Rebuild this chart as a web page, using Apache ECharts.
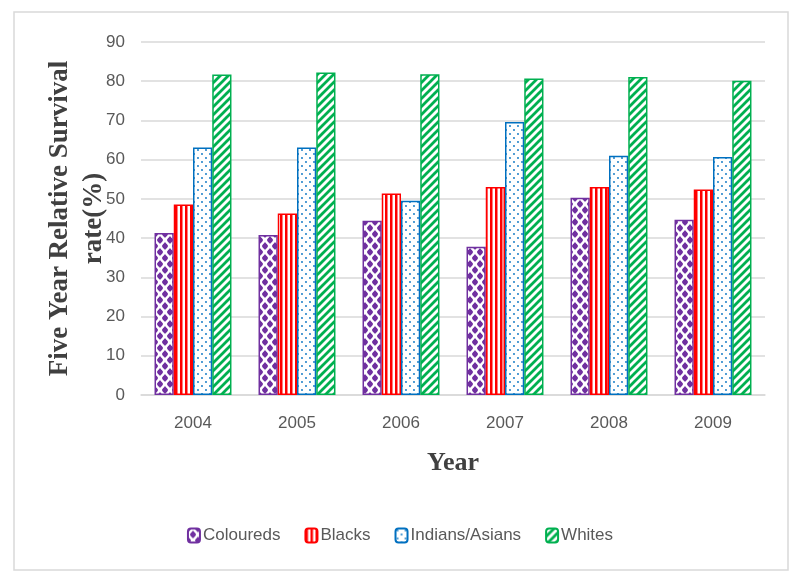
<!DOCTYPE html>
<html>
<head>
<meta charset="utf-8">
<script src="https://cdn.jsdelivr.net/npm/echarts@6/dist/echarts.min.js"></script>
<style>
    html, body { margin: 0; padding: 0; background: #fff; }
    #chart { width: 800px; height: 578px; }
</style>
</head>
<body>
<div id="chart"></div>
<script>
const years = ['2004', '2005', '2006', '2007', '2008', '2009'];
const coloureds = [41.3, 40.8, 44.4, 37.8, 50.3, 44.7];
const blacks = [48.6, 46.3, 51.4, 53.0, 53.0, 52.4];
const indiansAsians = [63.1, 63.1, 49.5, 69.6, 61.0, 60.7];
const whites = [81.7, 82.2, 81.8, 80.7, 81.1, 80.1];
const yTicks = [0, 10, 20, 30, 40, 50, 60, 70, 80, 90];

// small canvas tiles used as bar fills
function makeTile(w, h, draw) {
    const c = document.createElement('canvas');
    c.width = w;
    c.height = h;
    const ctx = c.getContext('2d');
    ctx.fillStyle = '#fff';
    ctx.fillRect(0, 0, w, h);
    draw(ctx);
    return { image: c, repeat: 'repeat' };
}

const purple = '#7030a0';
const red = '#ff0000';
const blue = '#0070c0';
const green = '#00b050';

const colouredFill = makeTile(10, 12, ctx => {
    ctx.fillStyle = purple;
    const blob = (x, y) => {
        ctx.beginPath();
        ctx.arc(x, y, 2.6, 0, Math.PI * 2);
        ctx.fill();
        ctx.beginPath();
        ctx.moveTo(x, y - 4);
        ctx.lineTo(x + 3, y);
        ctx.lineTo(x, y + 4);
        ctx.lineTo(x - 3, y);
        ctx.fill();
    };
    blob(5, 6);
    blob(0, 0); blob(10, 0); blob(0, 12); blob(10, 12);
});
const blackFill = makeTile(5, 5, ctx => {
    ctx.fillStyle = red;
    ctx.fillRect(0, 0, 2.5, 5);
});
const indianFill = makeTile(8, 8, ctx => {
    ctx.fillStyle = blue;
    [[2, 2], [6, 6]].forEach(p => {
        ctx.beginPath();
        ctx.arc(p[0], p[1], 0.9, 0, Math.PI * 2);
        ctx.fill();
    });
});
const whiteFill = makeTile(8, 8, ctx => {
    ctx.strokeStyle = green;
    ctx.lineWidth = 2.8;
    ctx.beginPath();
    ctx.moveTo(-2, 10); ctx.lineTo(10, -2);
    ctx.moveTo(-6, 6); ctx.lineTo(6, -6);
    ctx.moveTo(2, 14); ctx.lineTo(14, 2);
    ctx.stroke();
});

function barSeries(name, data, fill, border) {
    return {
        name: name,
        type: 'bar',
        data: data,
        barGap: '0%',
        barCategoryGap: '26%',
        itemStyle: {
            color: fill,
            borderColor: border,
            borderWidth: 1.5
        }
    };
}

const labelFont = 'Liberation Sans Narrow, Liberation Sans, sans-serif';

const chart = echarts.init(document.getElementById('chart'));
chart.setOption({
    backgroundColor: '#fff',
    animation: false,
    graphic: [{
        type: 'rect',
        shape: { x: 14, y: 12, width: 774, height: 558 },
        style: { fill: 'none', stroke: '#d9d9d9', lineWidth: 1.5 },
        silent: true
    }],
    grid: {
        left: 141,
        right: 35,
        top: 42,
        bottom: 183
    },
    legend: {
        top: 522,
        left: 'center',
        itemWidth: 12,
        itemHeight: 14,
        itemGap: 24,
        textStyle: {
            fontFamily: labelFont,
            fontSize: 17,
            color: '#595959',
            padding: [0, 0, 0, -2]
        },
        data: ['Coloureds', 'Blacks', 'Indians/Asians', 'Whites']
    },
    xAxis: {
        type: 'category',
        data: years,
        name: 'Year',
        nameLocation: 'middle',
        nameGap: 55,
        nameTextStyle: {
            fontFamily: 'Liberation Serif, serif',
            fontWeight: 'bold',
            fontSize: 26,
            color: '#404040'
        },
        axisTick: { show: false },
        axisLine: { lineStyle: { color: '#d9d9d9', width: 1.5 } },
        axisLabel: {
            margin: 20,
            fontFamily: labelFont,
            fontSize: 17,
            color: '#595959'
        }
    },
    yAxis: {
        type: 'value',
        min: yTicks[0],
        max: yTicks[yTicks.length - 1],
        interval: 10,
        name: 'Five Year Relative Survival\nrate(%)',
        nameLocation: 'middle',
        nameGap: 30,
        nameMoveOverlap: false,
        nameTextStyle: {
            fontFamily: 'Liberation Serif, serif',
            fontWeight: 'bold',
            fontSize: 27,
            color: '#404040',
            lineHeight: 34
        },
        axisLine: { show: false },
        axisTick: { show: false },
        splitLine: { lineStyle: { color: '#d9d9d9', width: 1.5 } },
        axisLabel: {
            margin: 16,
            fontFamily: labelFont,
            fontSize: 17,
            color: '#595959'
        }
    },
    series: [
        barSeries('Coloureds', coloureds, colouredFill, purple),
        barSeries('Blacks', blacks, blackFill, red),
        barSeries('Indians/Asians', indiansAsians, indianFill, blue),
        barSeries('Whites', whites, whiteFill, green)
    ]
});
</script>
</body>
</html>
